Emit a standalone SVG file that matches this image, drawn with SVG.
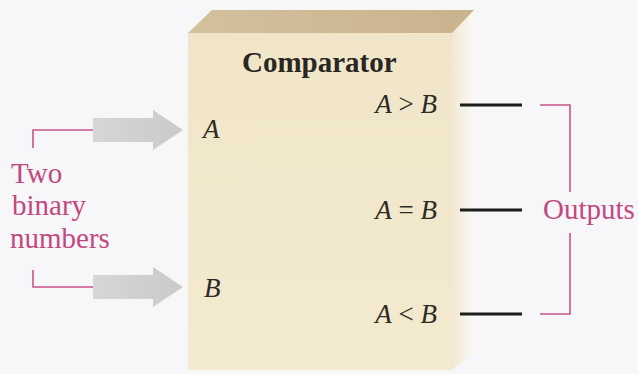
<svg xmlns="http://www.w3.org/2000/svg" width="638" height="374" viewBox="0 0 638 374">
  <defs>
    <style>
      text { font-family: 'Liberation Serif', 'DejaVu Serif', serif; }
      .title { font-size: 29px; font-weight: bold; fill: #2a2622; }
      .lbl { font-size: 27px; fill: #2e2a26; }
      .it { font-style: italic; }
      .pink { font-size: 29px; fill: #c2487f; }
      .out { stroke: #1c1c1c; stroke-width: 3; fill: none; }
      .br { stroke: #c8558a; stroke-width: 1.6; fill: none; }
      .arrow { fill: url(#arrowGrad); }
    </style>
    <linearGradient id="sideGrad" x1="0" y1="0" x2="1" y2="0">
      <stop offset="0" stop-color="#f1e8d3"/>
      <stop offset="1" stop-color="#fbf9f4"/>
    </linearGradient>
    <linearGradient id="topGrad" x1="0" y1="0" x2="1" y2="0">
      <stop offset="0" stop-color="#d3c09d"/>
      <stop offset="1" stop-color="#c9b38d"/>
    </linearGradient>
    <linearGradient id="frontGrad" x1="0" y1="0" x2="0" y2="1">
      <stop offset="0" stop-color="#f0e5c9"/>
      <stop offset="1" stop-color="#f3eacf"/>
    </linearGradient>
    <linearGradient id="arrowGrad" x1="0" y1="0" x2="1" y2="0">
      <stop offset="0" stop-color="#d6d6d6"/>
      <stop offset="1" stop-color="#cacaca"/>
    </linearGradient>
  </defs>

  <rect x="0" y="0" width="638" height="374" fill="#f7f7f9"/>

  <g id="comparator" font-family="Liberation Serif, DejaVu Serif, serif">
    <polygon points="452,33 474,10 474,352 452,370" fill="url(#sideGrad)"/>
    <polygon points="188,33 212,10 474,10 452,33" fill="url(#topGrad)"/>
    <rect x="188" y="33" width="264" height="337" fill="url(#frontGrad)"/>
    <text class="title" x="242" y="72">Comparator</text>
    <text class="lbl it" x="203" y="138">A</text>
    <text class="lbl it" x="204" y="297">B</text>
    <text class="lbl" x="437" y="113" text-anchor="end"><tspan class="it">A</tspan> &gt; <tspan class="it">B</tspan></text>
    <text class="lbl" x="437" y="219" text-anchor="end"><tspan class="it">A</tspan> = <tspan class="it">B</tspan></text>
    <text class="lbl" x="437" y="323" text-anchor="end"><tspan class="it">A</tspan> &lt; <tspan class="it">B</tspan></text>
  </g>

  <g id="inputs-label" font-family="Liberation Serif, DejaVu Serif, serif">
    <text class="pink" x="11" y="183">Two</text>
    <text class="pink" x="12" y="215">binary</text>
    <text class="pink" x="10" y="248">numbers</text>
  </g>

  <g id="outputs-label" font-family="Liberation Serif, DejaVu Serif, serif">
    <text class="pink" x="543" y="219">Outputs</text>
  </g>

  <g id="connectors">
    <polygon class="arrow" points="93,118 153,118 153,110 183,130 153,150 153,142 93,142"/>
    <polygon class="arrow" points="93,275 153,275 153,267 183,287 153,307 153,299 93,299"/>
    <path class="br" d="M33,148 V130 H93"/>
    <path class="br" d="M33,270 V287 H93"/>
    <line class="out" x1="460" y1="105" x2="522" y2="105"/>
    <line class="out" x1="460" y1="210" x2="522" y2="210"/>
    <line class="out" x1="460" y1="314" x2="522" y2="314"/>
    <path class="br" d="M540,105 H570 V192"/>
    <path class="br" d="M570,233 V314 H540"/>
  </g>
</svg>
